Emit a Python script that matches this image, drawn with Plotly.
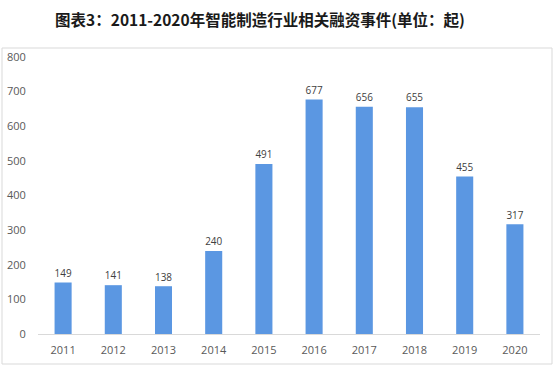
import plotly.graph_objects as go

years = ["2011", "2012", "2013", "2014", "2015", "2016", "2017", "2018", "2019", "2020"]
events = [149, 141, 138, 240, 491, 677, 656, 655, 455, 317]
y_ticks = [0, 100, 200, 300, 400, 500, 600, 700, 800]

W, H = 554, 376
ml, mr, mt, mb = 38, 14, 57, 42
pw, ph = W - ml - mr, H - mt - mb

fig = go.Figure(go.Bar(
    x=years, y=events,
    marker=dict(color="#5B97E2", line=dict(width=0)),
    text=[str(v) for v in events], textposition="outside",
    textfont=dict(family="Open Sans, DejaVu Sans", size=11, color="#404040"),
    cliponaxis=False, width=0.34,
))

fig.update_layout(
    width=W, height=H,
    margin=dict(l=ml, r=mr, t=mt, b=mb, autoexpand=False),
    paper_bgcolor="white", plot_bgcolor="white",
    showlegend=False,
    title=dict(text="<b>图表3：2011-2020年智能制造行业相关融资事件(单位：起)</b>",
               x=260 / W, xref="container", xanchor="center", y=1 - 21 / H, yref="container",
               yanchor="middle",
               font=dict(family="Noto Sans CJK SC", size=15.5, color="#1a1a1a")),
    xaxis=dict(showgrid=False, showline=True, linecolor="#d9d9d9", linewidth=1,
               ticks="outside", ticklen=6, tickcolor="rgba(0,0,0,0)", automargin=False,
               tickfont=dict(family="Open Sans, DejaVu Sans", size=11, color="#595959"),
               range=[-0.5, 9.5]),
    yaxis=dict(range=[0, 800], tickvals=y_ticks, showgrid=False, zeroline=False,
               showline=False, ticks="outside", ticklen=9, tickcolor="rgba(0,0,0,0)",
               automargin=False,
               tickfont=dict(family="Open Sans, DejaVu Sans", size=11, color="#595959")),
    shapes=[dict(type="rect", xref="paper", yref="paper",
                 x0=(2 - ml) / pw, x1=(552 - ml) / pw,
                 y0=(H - mb - 364) / ph, y1=(H - mb - 48) / ph,
                 line=dict(color="#d9d9d9", width=1), fillcolor="rgba(0,0,0,0)", layer="below")],
)

fig.write_html("out.html", config={"displayModeBar": False},
               post_script="document.body.style.margin='0';")
